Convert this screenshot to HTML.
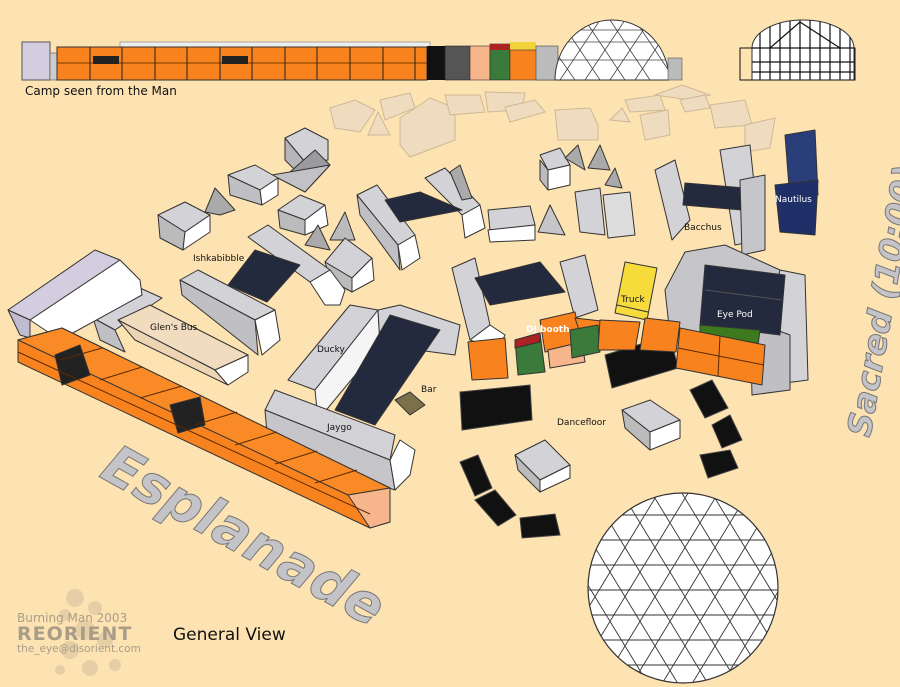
<!DOCTYPE html>
<html><head><meta charset="utf-8"><style>
html,body{margin:0;padding:0;background:#fde2b2;}
svg{display:block}
text{font-family:"DejaVu Sans","Liberation Sans",sans-serif;}
</style></head><body>
<svg width="900" height="687" viewBox="0 0 900 687" xmlns="http://www.w3.org/2000/svg">
<defs>
<clipPath id="dc"><circle cx="683" cy="588" r="95"/></clipPath>
<clipPath id="td"><path d="M555 80 A57 60 0 0 1 669 80 Z"/></clipPath>
<clipPath id="td2"><path d="M752 48 A51 28 0 0 1 854 48 L854 80 L752 80 Z"/></clipPath>
</defs>
<rect width="900" height="687" fill="#fde2b2"/>

<!-- TOP STRIP -->
<rect x="22" y="42" width="28" height="38" fill="#d4cde0" stroke="#555" stroke-width="1"/>
<rect x="50" y="53" width="7" height="27" fill="#ccc" stroke="#555" stroke-width="0.6"/>
<rect x="120" y="42" width="310" height="6" fill="#eee" stroke="#777" stroke-width="0.6"/>
<rect x="57" y="47" width="370" height="33" fill="#f7821e" stroke="#333" stroke-width="1"/>
<line x1="57" y1="63" x2="427" y2="63" stroke="#7a3a00" stroke-width="1"/>
<g stroke="#222" stroke-width="1">
<line x1="90" y1="47" x2="90" y2="80"/><line x1="122" y1="47" x2="122" y2="80"/><line x1="155" y1="47" x2="155" y2="80"/><line x1="187" y1="47" x2="187" y2="80"/><line x1="220" y1="47" x2="220" y2="80"/><line x1="252" y1="47" x2="252" y2="80"/><line x1="285" y1="47" x2="285" y2="80"/><line x1="317" y1="47" x2="317" y2="80"/><line x1="350" y1="47" x2="350" y2="80"/><line x1="383" y1="47" x2="383" y2="80"/><line x1="415" y1="47" x2="415" y2="80"/>
</g>
<rect x="93" y="56" width="26" height="8" fill="#222"/>
<rect x="222" y="56" width="26" height="8" fill="#222"/>
<rect x="427" y="46" width="18" height="34" fill="#111"/>
<rect x="445" y="46" width="25" height="34" fill="#555" stroke="#222" stroke-width="0.6"/>
<rect x="470" y="46" width="20" height="34" fill="#f6b58a" stroke="#333" stroke-width="0.6"/>
<rect x="490" y="44" width="20" height="36" fill="#3a7a3a" stroke="#222" stroke-width="0.6"/>
<rect x="490" y="44" width="20" height="6" fill="#a22"/>
<rect x="510" y="42" width="26" height="8" fill="#f3d33a"/>
<rect x="510" y="50" width="45" height="30" fill="#f7821e" stroke="#333" stroke-width="0.6"/>
<rect x="536" y="46" width="22" height="34" fill="#bbb" stroke="#444" stroke-width="0.6"/>
<path d="M555 80 A57 60 0 0 1 669 80 Z" fill="#fff" stroke="#333"/>
<g clip-path="url(#td)" stroke="#444" stroke-width="0.8">
<line x1="540" y1="60" x2="690" y2="60"/><line x1="540" y1="42" x2="690" y2="42"/><line x1="540" y1="30" x2="690" y2="30"/>
<line x1="560" y1="80" x2="600" y2="20"/><line x1="585" y1="80" x2="625" y2="20"/><line x1="610" y1="80" x2="650" y2="20"/><line x1="635" y1="80" x2="675" y2="20"/>
<line x1="560" y1="20" x2="600" y2="80"/><line x1="585" y1="20" x2="625" y2="80"/><line x1="610" y1="20" x2="650" y2="80"/><line x1="635" y1="20" x2="675" y2="80"/><line x1="540" y1="30" x2="575" y2="80"/>
</g>
<rect x="668" y="58" width="14" height="22" fill="#bbb" stroke="#555" stroke-width="0.6"/>
<path d="M752 48 A51 28 0 0 1 854 48 L854 80 L752 80 Z" fill="#fff" stroke="#333"/>
<g clip-path="url(#td2)" stroke="#111" stroke-width="1.2">
<line x1="740" y1="48" x2="860" y2="48"/><line x1="740" y1="62" x2="860" y2="62"/><line x1="740" y1="72" x2="860" y2="72"/>
<line x1="760" y1="20" x2="760" y2="80"/><line x1="770" y1="20" x2="770" y2="80"/><line x1="780" y1="20" x2="780" y2="80"/><line x1="790" y1="20" x2="790" y2="80"/><line x1="800" y1="20" x2="800" y2="80"/><line x1="810" y1="20" x2="810" y2="80"/><line x1="820" y1="20" x2="820" y2="80"/><line x1="830" y1="20" x2="830" y2="80"/><line x1="840" y1="20" x2="840" y2="80"/><line x1="850" y1="20" x2="850" y2="80"/>
<line x1="770" y1="48" x2="800" y2="22"/><line x1="800" y1="22" x2="840" y2="48"/>
</g>
<rect x="740" y="48" width="115" height="32" fill="none" stroke="#111"/>
<text x="25" y="95" font-size="12" fill="#111">Camp seen from the Man</text>

<!-- FADED BACK ROW -->
<g fill="#eedcc0" stroke="#c9b494" stroke-width="1" opacity="0.9">
<polygon points="330,108 355,100 375,110 360,132 335,128"/>
<polygon points="368,135 378,112 390,135"/>
<polygon points="380,100 410,93 415,108 385,120"/>
<polygon points="400,118 430,98 455,108 455,140 410,157 400,145"/>
<polygon points="445,95 480,95 485,112 450,115"/>
<polygon points="485,92 525,93 522,110 488,112"/>
<polygon points="505,107 535,100 545,112 510,122"/>
<polygon points="555,110 590,108 598,125 598,140 558,140"/>
<polygon points="610,120 622,108 630,122"/>
<polygon points="625,100 660,95 665,110 630,112"/>
<polygon points="640,115 668,110 670,135 645,140"/>
<polygon points="655,95 682,85 710,95 690,100"/>
<polygon points="680,100 705,95 710,108 685,112"/>
<polygon points="710,105 745,100 752,125 715,128"/>
<polygon points="745,125 775,118 770,148 745,152"/>
</g>

<!-- GREY BOXES -->
<g stroke="#333" stroke-width="1" stroke-linejoin="round">
<polygon points="285,138 305,128 328,140 328,160 305,162" fill="#d3d3d7"/>
<polygon points="285,138 305,162 303,178 285,160" fill="#b5b5ba"/>
<polygon points="290,172 315,150 330,165 305,192" fill="#9a9a9f"/>
<polygon points="272,175 305,192 330,165" fill="#c2c2c6"/>
<polygon points="228,175 255,165 278,178 260,190" fill="#d3d3d7"/>
<polygon points="228,175 260,190 262,205 230,195" fill="#c0c0c4"/>
<polygon points="260,190 278,178 278,195 262,205" fill="#fff"/>
<polygon points="205,212 215,188 235,210 220,215" fill="#aaa"/>
<polygon points="158,215 185,202 210,215 185,232" fill="#d3d3d7"/>
<polygon points="158,215 185,232 183,250 160,238" fill="#bbb"/>
<polygon points="185,232 210,215 210,232 183,250" fill="#fff"/>
<polygon points="278,210 300,195 325,205 305,220" fill="#d3d3d7"/>
<polygon points="278,210 305,220 305,235 280,228" fill="#bbb"/>
<polygon points="305,220 325,205 328,225 305,235" fill="#fff"/>
<polygon points="305,245 318,225 330,250" fill="#aaa"/>
<polygon points="330,240 345,212 355,240" fill="#bbb"/>
<polygon points="325,262 345,238 372,258 352,278" fill="#d3d3d7"/>
<polygon points="352,278 372,258 374,280 352,292" fill="#fff"/>
<polygon points="325,262 352,278 352,292 330,280" fill="#bbb"/>
<polygon points="248,237 268,225 330,270 310,282" fill="#d3d3d7"/>
<polygon points="310,282 330,270 345,290 340,305 325,305" fill="#fff"/>
<polygon points="180,280 198,270 275,310 255,320" fill="#d3d3d7"/>
<polygon points="180,280 255,320 258,355 182,295" fill="#c0c0c4"/>
<polygon points="255,320 275,310 280,340 262,355" fill="#fff"/>
<polygon points="228,285 255,250 300,265 267,302" fill="#232a3d"/>
<polygon points="357,195 377,185 415,235 398,245" fill="#d3d3d7"/>
<polygon points="357,195 398,245 400,270 360,215" fill="#c0c0c4"/>
<polygon points="398,245 415,235 420,258 402,270" fill="#fff"/>
<polygon points="425,178 445,168 480,205 462,215" fill="#d3d3d7"/>
<polygon points="462,215 480,205 485,228 465,238" fill="#fff"/>
<polygon points="385,200 420,192 462,210 400,222" fill="#232a3d"/>
<polygon points="450,172 460,165 472,198 462,200" fill="#aaa"/>
<polygon points="488,210 530,206 535,225 490,230" fill="#d3d3d7"/>
<polygon points="488,230 535,225 535,240 490,242" fill="#fff"/>
<polygon points="538,232 550,205 565,235" fill="#c6c6ca"/>
<polygon points="540,155 560,148 570,165 548,170" fill="#d3d3d7"/>
<polygon points="540,160 548,170 548,190 540,180" fill="#bbb"/>
<polygon points="548,170 570,165 570,185 548,190" fill="#fff"/>
<polygon points="565,158 578,145 585,170" fill="#aaa"/>
<polygon points="588,168 600,145 610,170" fill="#aaa"/>
<polygon points="605,185 615,168 622,188" fill="#aaa"/>
<polygon points="575,192 600,188 605,235 580,232" fill="#d3d3d7"/>
<polygon points="603,195 630,192 635,235 608,238" fill="#ddd"/>
<polygon points="452,268 475,258 490,325 470,340" fill="#d3d3d7"/>
<polygon points="560,262 585,255 598,310 575,318" fill="#d3d3d7"/>
<polygon points="475,278 540,262 565,292 490,305" fill="#232a3d"/>
<polygon points="470,340 490,325 505,335 498,350" fill="#fff"/>
<polygon points="655,170 675,160 690,220 672,240" fill="#d3d3d7"/>
<polygon points="720,150 750,145 760,240 735,245" fill="#d3d3d7"/>
<polygon points="685,183 745,188 742,210 683,205" fill="#232a3d"/>
<polygon points="740,180 765,175 765,250 742,255" fill="#c6c6ca"/>
<polygon points="785,135 815,130 818,195 790,200" fill="#2a3e7a"/>
<polygon points="775,185 818,180 815,235 780,232" fill="#1f3068"/>
<polygon points="685,252 725,245 780,270 782,330 670,335 665,290" fill="#c6c6ca"/>
<polygon points="780,270 805,275 808,380 770,385 765,330" fill="#d3d3d7"/>
<polygon points="750,320 790,335 790,390 752,395" fill="#c0c0c4"/>
<polygon points="705,265 785,275 780,335 700,325" fill="#232a3d"/>
<line x1="705" y1="290" x2="782" y2="300" stroke="#555"/>
<polygon points="700,325 760,330 758,345 700,340" fill="#3d7a1e"/>
<polygon points="625,262 657,268 647,320 615,313" fill="#f6db3a"/>
<line x1="617" y1="305" x2="648" y2="312" stroke="#333"/>
<polygon points="93,318 140,288 162,298 115,330" fill="#d3d3d7"/>
<polygon points="93,318 115,330 125,352 100,340" fill="#c0c0c4"/>
<polygon points="118,320 150,305 248,355 215,370" fill="#f2dcbf"/>
<polygon points="118,320 215,370 228,385 135,340" fill="#ecd4b4"/>
<polygon points="215,370 248,355 248,372 228,385" fill="#fff"/>
<polygon points="8,310 95,250 120,260 30,320" fill="#d4cde0"/>
<polygon points="30,320 120,260 140,280 142,295 60,340" fill="#fff"/>
<polygon points="8,310 30,320 30,338 20,335" fill="#c0bcd0"/>
<polygon points="288,380 350,305 378,310 315,390" fill="#d3d3d7"/>
<polygon points="315,390 378,310 380,345 318,420" fill="#f5f5f5"/>
<polygon points="378,310 400,305 460,325 455,355 380,345" fill="#d3d3d7"/>
<polygon points="390,315 440,330 375,425 335,410" fill="#232a3d"/>
<polygon points="265,410 275,390 395,435 390,460" fill="#d3d3d7"/>
<polygon points="265,410 390,460 395,490 268,445" fill="#c6c6ca"/>
<polygon points="390,460 400,440 415,450 410,475 395,490" fill="#fff"/>
<polygon points="395,400 410,392 425,405 410,415" fill="#7a704a"/>
<polygon points="622,410 650,400 680,420 650,432" fill="#d3d3d7"/>
<polygon points="622,410 650,432 650,450 625,428" fill="#bbb"/>
<polygon points="650,432 680,420 680,438 650,450" fill="#fff"/>
<polygon points="515,455 545,440 570,465 540,480" fill="#d3d3d7"/>
<polygon points="515,455 540,480 540,492 518,470" fill="#bbb"/>
<polygon points="540,480 570,465 570,478 540,492" fill="#fff"/>
</g>

<g fill="#111" stroke="#444" stroke-width="1">
<polygon points="460,392 530,385 532,420 462,430"/>
<polygon points="605,355 670,335 678,368 612,388"/>
<polygon points="690,390 712,380 728,408 705,418"/>
<polygon points="712,425 730,415 742,440 722,448"/>
<polygon points="700,455 730,450 738,468 708,478"/>
<polygon points="460,462 478,455 492,488 475,496"/>
<polygon points="475,500 495,490 516,515 498,526"/>
<polygon points="520,518 555,514 560,535 522,538"/>
</g>

<g stroke="#333" stroke-width="1" stroke-linejoin="round">
<polygon points="18,340 62,328 390,488 390,522 370,528 18,362" fill="#f7821e"/>
<polygon points="18,340 62,328 390,488 348,495" fill="#f98a26"/>
<polygon points="348,495 390,488 390,522 370,528" fill="#f6b58a"/>
<polygon points="55,355 80,345 90,375 62,385" fill="#222"/>
<polygon points="170,405 200,397 205,425 178,433" fill="#222"/>
<g stroke="#5a2a00">
<line x1="60" y1="360" x2="102" y2="348"/><line x1="100" y1="380" x2="142" y2="367"/><line x1="140" y1="398" x2="182" y2="386"/><line x1="195" y1="425" x2="237" y2="412"/><line x1="235" y1="445" x2="277" y2="432"/><line x1="275" y1="464" x2="317" y2="451"/><line x1="315" y1="483" x2="357" y2="470"/>
<line x1="18" y1="352" x2="370" y2="514"/>
</g>
</g>

<g stroke="#333" stroke-width="1" stroke-linejoin="round">
<polygon points="468,342 505,338 508,378 472,380" fill="#f7821e"/>
<polygon points="540,320 575,312 582,345 545,352" fill="#f7821e"/>
<polygon points="548,350 582,342 585,362 550,368" fill="#f6b58a"/>
<polygon points="515,340 540,333 545,372 518,375" fill="#3a7a3a"/>
<polygon points="515,340 540,333 540,342 515,348" fill="#a22"/>
<polygon points="575,318 610,322 600,345 584,345" fill="#f7821e"/>
<polygon points="570,330 598,325 600,352 572,358" fill="#3a7a3a"/>
<polygon points="600,320 640,322 635,350 598,350" fill="#f7821e"/>
<polygon points="645,318 680,322 676,352 640,350" fill="#f7821e"/>
<polygon points="680,328 765,345 762,385 676,368" fill="#f7821e"/>
<line x1="678" y1="348" x2="764" y2="365" stroke="#5a2a00"/>
<line x1="720" y1="336" x2="718" y2="376" stroke="#5a2a00"/>
</g>

<circle cx="683" cy="588" r="95" fill="#fff" stroke="#333" stroke-width="1.2"/>
<g clip-path="url(#dc)" stroke="#333" stroke-width="0.9">
<line x1="580" y1="515" x2="790" y2="515"/><line x1="580" y1="540" x2="790" y2="540"/><line x1="580" y1="565" x2="790" y2="565"/><line x1="580" y1="590" x2="790" y2="590"/><line x1="580" y1="615" x2="790" y2="615"/><line x1="580" y1="640" x2="790" y2="640"/><line x1="580" y1="665" x2="790" y2="665"/>
<line x1="540" y1="687" x2="660" y2="490"/><line x1="570" y1="687" x2="690" y2="490"/><line x1="600" y1="687" x2="720" y2="490"/><line x1="630" y1="687" x2="750" y2="490"/><line x1="660" y1="687" x2="780" y2="490"/><line x1="690" y1="687" x2="810" y2="490"/><line x1="720" y1="687" x2="840" y2="490"/><line x1="510" y1="687" x2="630" y2="490"/>
<line x1="530" y1="490" x2="650" y2="687"/><line x1="560" y1="490" x2="680" y2="687"/><line x1="590" y1="490" x2="710" y2="687"/><line x1="620" y1="490" x2="740" y2="687"/><line x1="650" y1="490" x2="770" y2="687"/><line x1="680" y1="490" x2="800" y2="687"/><line x1="710" y1="490" x2="830" y2="687"/><line x1="740" y1="490" x2="860" y2="687"/>
</g>

<g font-size="9" fill="#111">
<text x="193" y="261">Ishkabibble</text>
<text x="150" y="330">Glen's Bus</text>
<text x="317" y="352">Ducky</text>
<text x="327" y="430">Jaygo</text>
<text x="421" y="392">Bar</text>
<text x="557" y="425">Dancefloor</text>
<text x="621" y="302">Truck</text>
<text x="684" y="230">Bacchus</text>
</g>
<g font-size="9" fill="#fff">
<text x="526" y="332" font-weight="bold">DJ booth</text>
<text x="717" y="317">Eye Pod</text>
<text x="775" y="202">Nautilus</text>
</g>

<text transform="translate(98,476) rotate(29)" font-size="54" font-style="italic" font-weight="bold" fill="#c4c4c8" stroke="#777" stroke-width="1" font-family="Liberation Sans, sans-serif">Esplanade</text>
<text transform="translate(870,438) rotate(-80)" font-size="33" font-style="italic" font-weight="bold" fill="#c4c4c8" stroke="#777" stroke-width="1" font-family="Liberation Sans, sans-serif">Sacred (10:00)</text>

<g fill="#e6cfa6">
<circle cx="75" cy="598" r="9"/><circle cx="95" cy="608" r="7"/><circle cx="65" cy="615" r="6"/><circle cx="85" cy="630" r="10"/><circle cx="105" cy="640" r="8"/><circle cx="70" cy="650" r="9"/><circle cx="90" cy="668" r="8"/><circle cx="115" cy="665" r="6"/><circle cx="60" cy="670" r="5"/>
</g>
<text x="17" y="622" font-size="12" fill="#a99d88">Burning Man 2003</text>
<text x="17" y="640" font-size="19" font-weight="bold" fill="#a99d88" letter-spacing="1">REORIENT</text>
<text x="17" y="652" font-size="10.5" fill="#a99d88">the_eye@disorient.com</text>
<text x="173" y="640" font-size="17" fill="#111">General View</text>
</svg>
</body></html>
